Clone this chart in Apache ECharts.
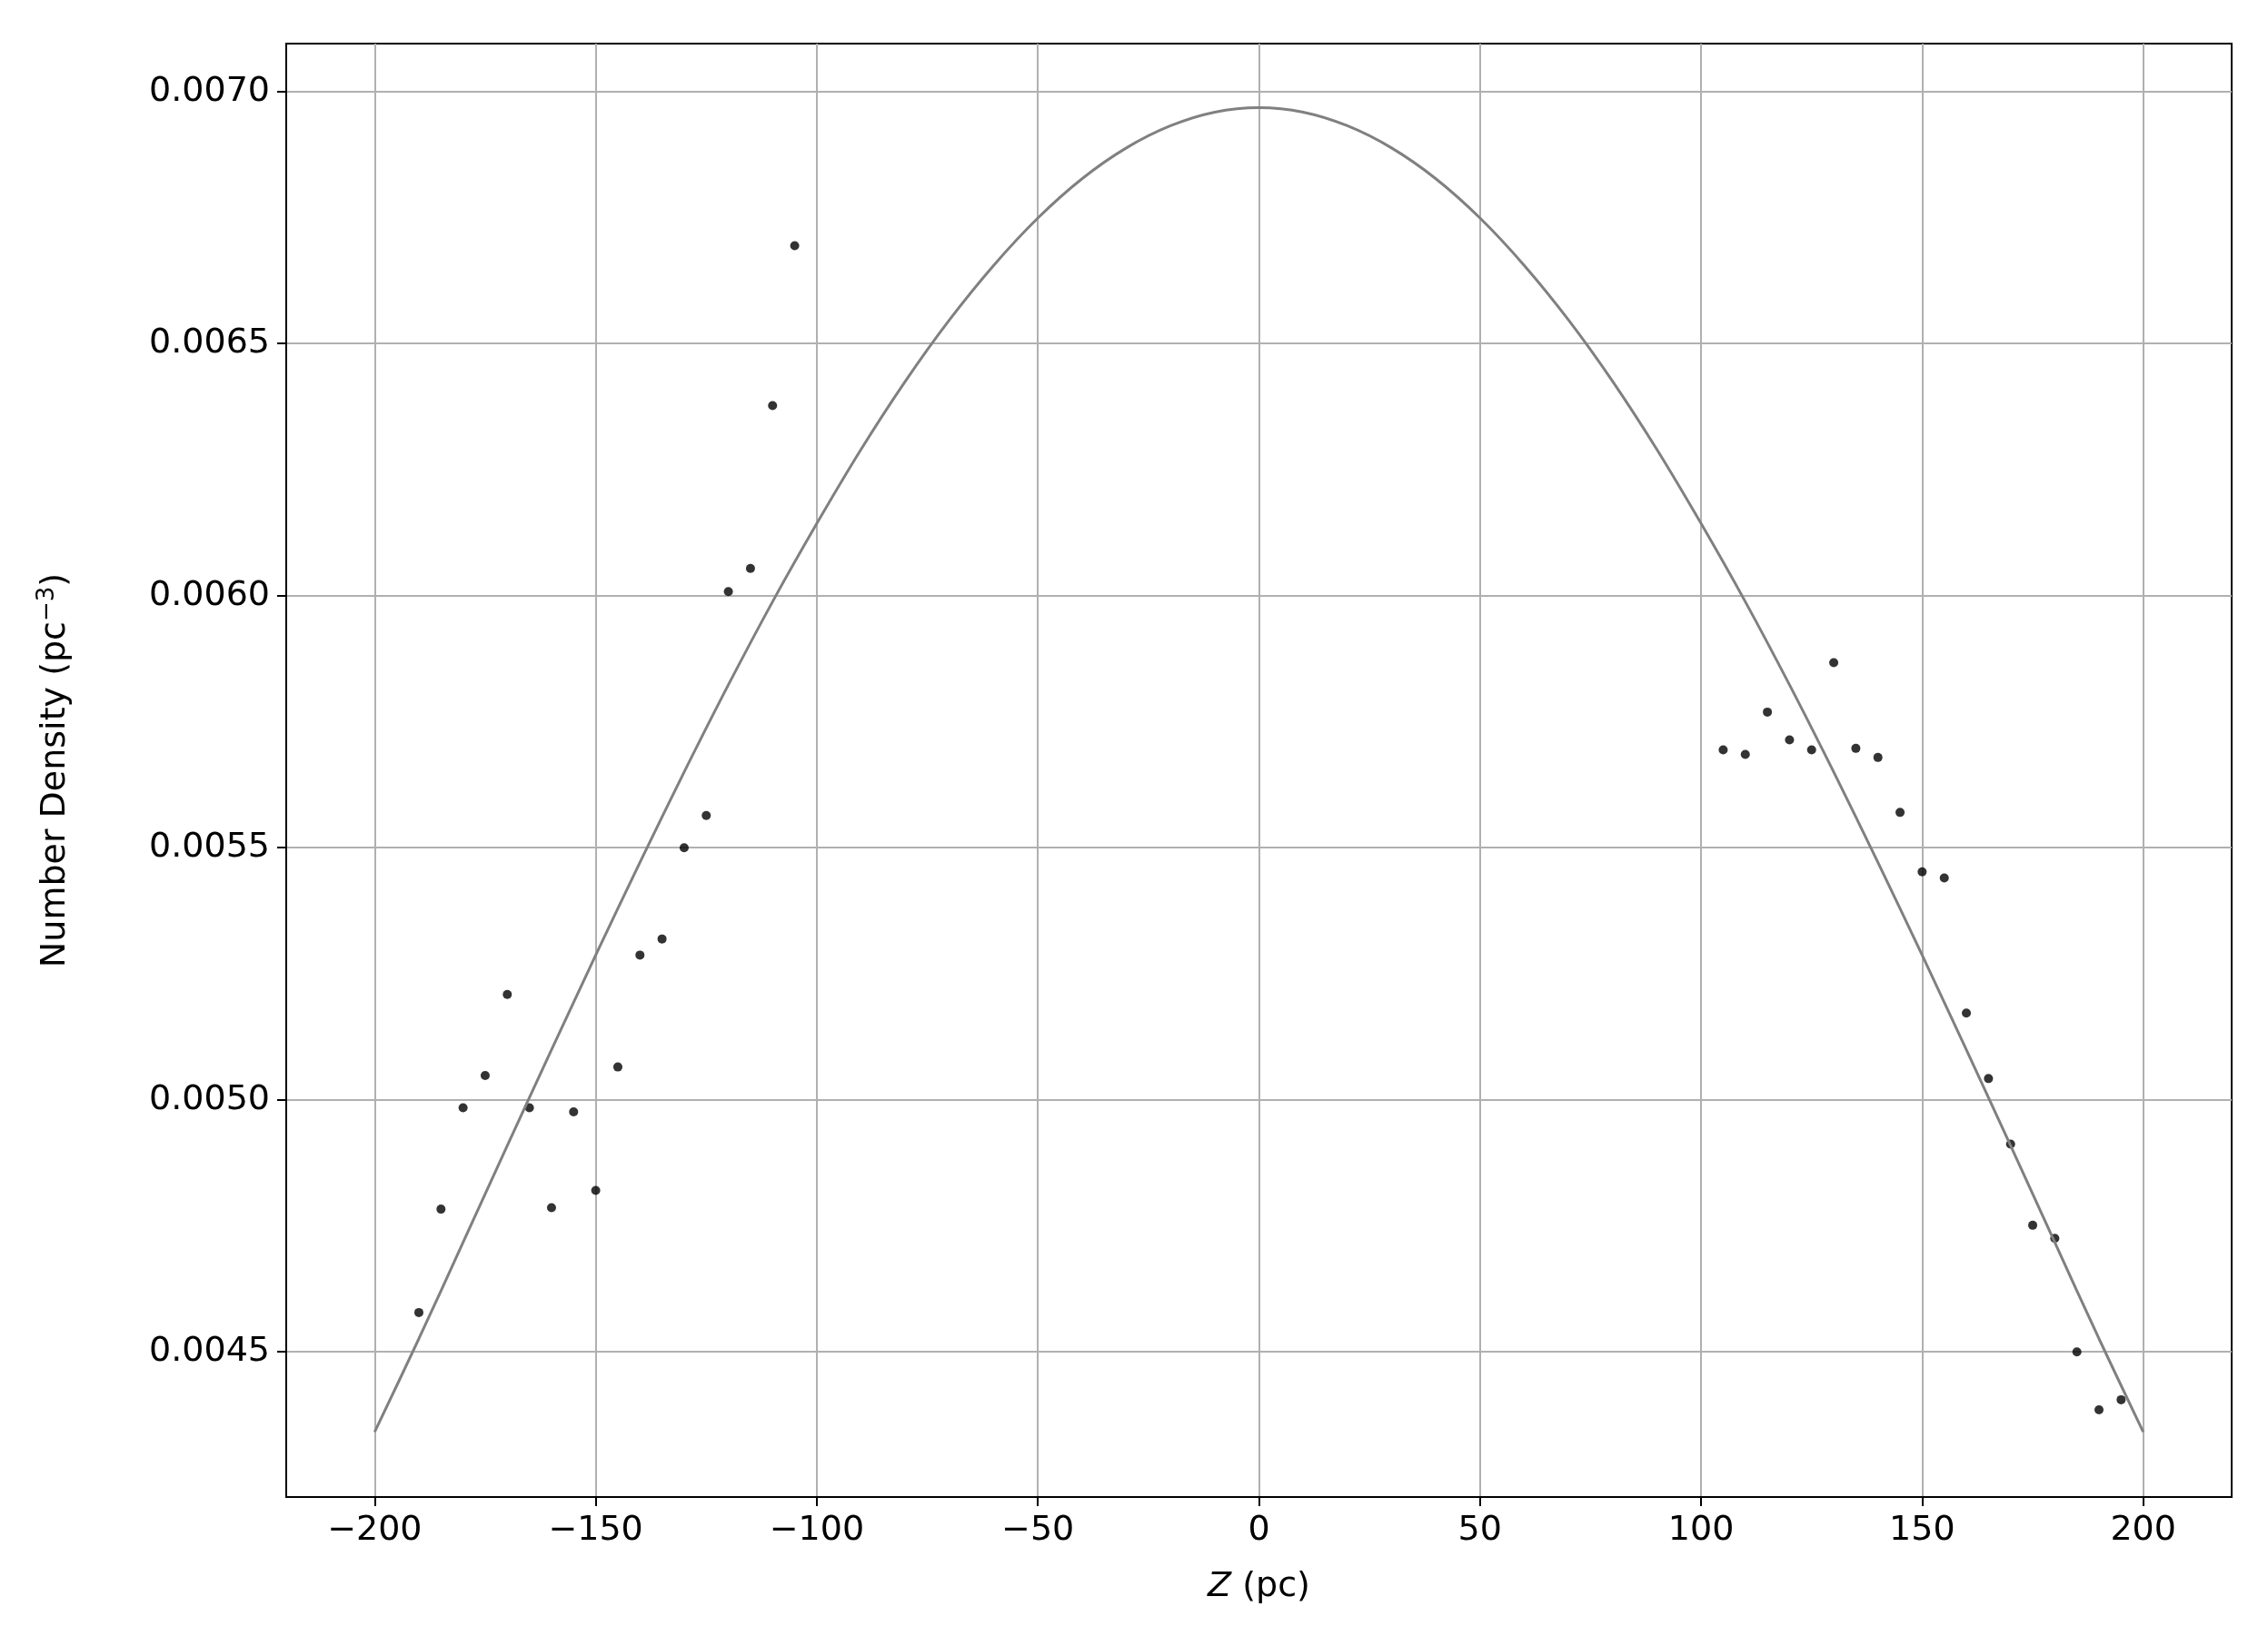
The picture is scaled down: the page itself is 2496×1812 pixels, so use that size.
<!DOCTYPE html>
<html>
<head>
<meta charset="utf-8">
<script src="https://cdn.jsdelivr.net/npm/echarts@6/dist/echarts.min.js"></script>
<style>html,body{margin:0;padding:0;background:#fff}#chart{width:2496px;height:1812px}</style>
</head>
<body>
<div id="chart"></div>
<script>
// 모델 곡선 (z, density)
const curveZ = [-200,-190,-180,-170,-160,-150,-140,-130,-120,-110,-100,-90,-80,-70,-60,-50,-40,-30,-20,-10,0,
  10,20,30,40,50,60,70,80,90,100,110,120,130,140,150,160,170,180,190,200];
const curveN = [0.004341,0.004526,0.004717,0.004909,0.005099,0.005287,0.005471,0.005650,0.005823,0.005988,0.006143,
  0.006290,0.006425,0.006547,0.006655,0.006749,0.006827,0.006888,0.006932,0.006959,0.006968,
  0.006959,0.006932,0.006888,0.006827,0.006749,0.006655,0.006547,0.006425,0.006290,0.006143,
  0.005988,0.005823,0.005650,0.005471,0.005287,0.005099,0.004909,0.004717,0.004526,0.004341];

// 측정값
const pointZ = [-190,-185,-180,-175,-170,-165,-160,-155,-150,-145,-140,-135,-130,-125,-120,-115,-110,-105,
  105,110,115,120,125,130,135,140,145,150,155,160,165,170,175,180,185,190,195];
const pointN = [0.004578,0.004783,0.004984,0.005048,0.005209,0.004984,0.004786,0.004976,0.004820,0.005065,
  0.005287,0.005319,0.005500,0.005564,0.006008,0.006054,0.006377,0.006694,
  0.005694,0.005685,0.005769,0.005714,0.005694,0.005867,0.005697,0.005679,0.005570,0.005452,0.005440,
  0.005172,0.005042,0.004912,0.004751,0.004725,0.004500,0.004385,0.004405];

const xTicks = [-200,-150,-100,-50,0,50,100,150,200];
const yTicks = [0.0045,0.0050,0.0055,0.0060,0.0065,0.0070];

const chart = echarts.init(document.getElementById('chart'));
const font = 'DejaVu Sans';
chart.setOption({
  animation: false,
  grid: { left: 315, right: 40, top: 48, bottom: 164, show: true, borderColor: '#000', borderWidth: 2, backgroundColor: 'transparent' },
  xAxis: {
    type: 'value', min: -220, max: 220,
    name: '{i|Z} (pc)', nameLocation: 'middle', nameGap: 80,
    nameTextStyle: { fontFamily: font, fontSize: 38, color: '#000', rich: { i: { fontStyle: 'italic', fontFamily: font, fontSize: 38 } } },
    axisLine: { show: true, onZero: false, lineStyle: { color: '#000', width: 2 } },
    axisTick: { show: true, customValues: xTicks, length: 10, lineStyle: { color: '#000', width: 2 } },
    axisLabel: { customValues: xTicks, fontFamily: font, fontSize: 38, color: '#000', margin: 18,
      formatter: v => String(v).replace('-', '\u2212') },
    splitLine: { show: true, lineStyle: { color: '#b0b0b0', width: 2 } }
  },
  yAxis: {
    type: 'value', min: 0.004212, max: 0.007095,
    name: 'Number Density (pc{s|\u22123})', nameLocation: 'middle', nameGap: 232, nameRotate: 90,
    nameTextStyle: { fontFamily: font, fontSize: 38, color: '#000', rich: { s: { fontSize: 26, verticalAlign: 'top', padding: [0, 0, 18, 0], fontFamily: font } } },
    axisLine: { show: true, onZero: false, lineStyle: { color: '#000', width: 2 } },
    axisTick: { show: true, customValues: yTicks, length: 10, lineStyle: { color: '#000', width: 2 } },
    axisLabel: { customValues: yTicks, fontFamily: font, fontSize: 38, color: '#000', margin: 18,
      formatter: v => v.toFixed(4) },
    splitLine: { show: true, lineStyle: { color: '#b0b0b0', width: 2 } }
  },
  series: [
    { type: 'line', data: curveZ.map((z, i) => [z, curveN[i]]), smooth: 0.3, showSymbol: false,
      lineStyle: { color: '#808080', width: 3 } },
    { type: 'scatter', data: pointZ.map((z, i) => [z, pointN[i]]), symbolSize: 10,
      itemStyle: { color: '#000' } }
  ]
});
</script>
</body>
</html>
